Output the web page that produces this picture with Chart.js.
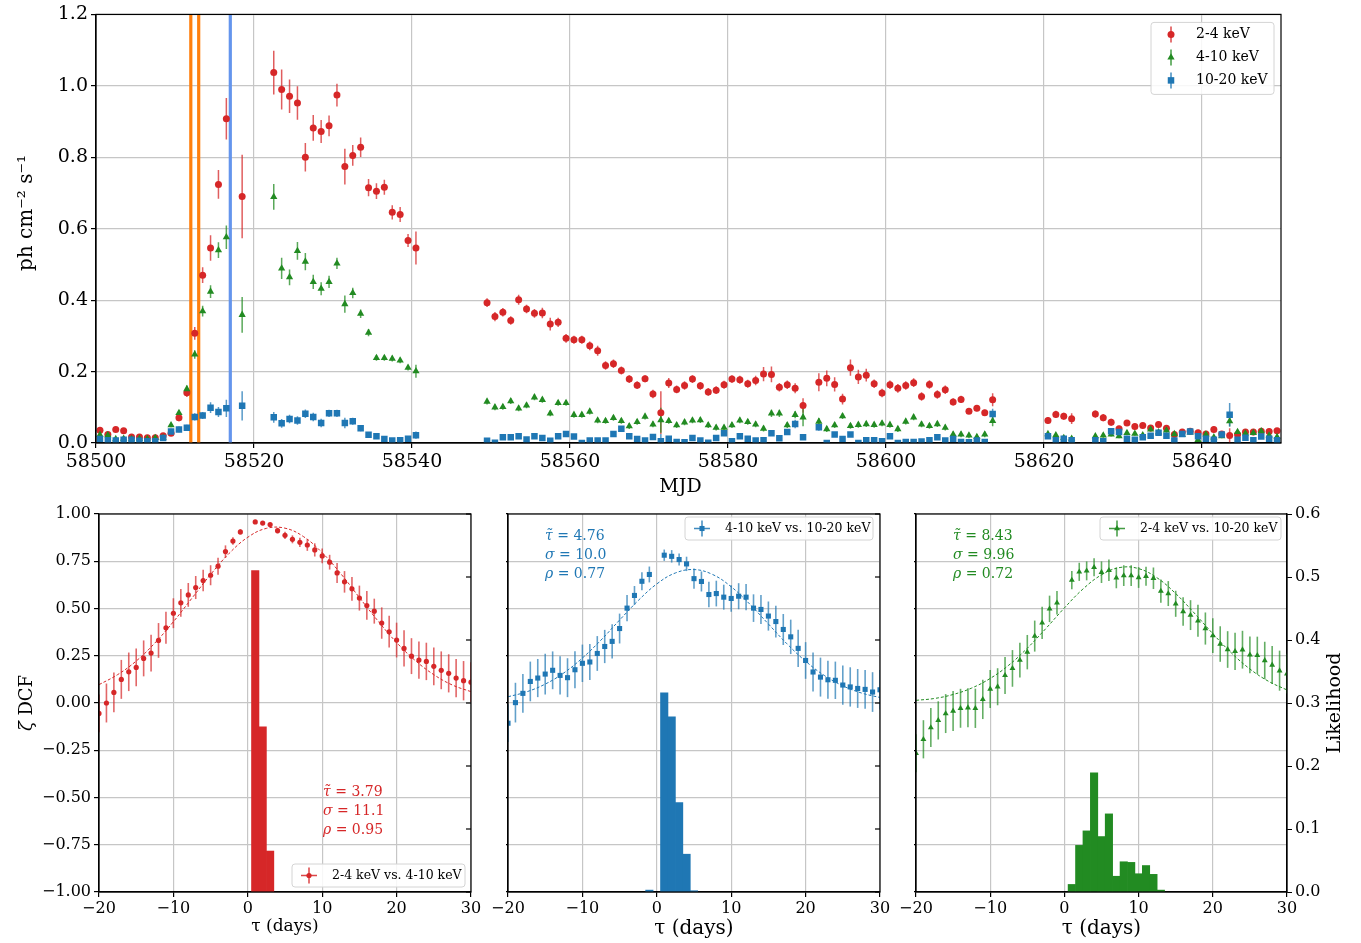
<!DOCTYPE html>
<html><head><meta charset="utf-8"><title>Light curves and DCF</title>
<script src="https://cdn.jsdelivr.net/npm/chart.js@4.4.1/dist/chart.umd.min.js"></script>
<style>
html,body{margin:0;padding:0;background:#fff;}
#wrap{position:relative;width:1361px;height:943px;overflow:hidden;background:#fff;}
#wrap canvas{position:absolute;left:0;top:0;}
</style></head><body><div id="wrap">
<canvas id="cTop" width="1361" height="943"></canvas>
<canvas id="cP1" width="1361" height="943"></canvas>
<canvas id="cP2" width="1361" height="943"></canvas>
<canvas id="cP3" width="1361" height="943"></canvas>
</div>
<script>
const FONT = "'DejaVu Serif', 'Liberation Serif', serif";
const RED = '#d62728', GREEN = '#228b22', BLUE = '#1f77b4', ORANGE = '#ff7f0e', CORNFLOWER = '#6495ed';
const GRID = '#c6c6c6';

// ---------------- Top panel data (MJD light curves) ----------------
const mjd = [
58500.5,58501.5,58502.5,58503.5,58504.5,58505.5,58506.5,58507.5,58508.5,58509.5,58510.5,58511.5,58512.5,58513.5,58514.5,58515.5,58516.5,
58518.5,
58522.5,58523.5,58524.5,58525.5,58526.5,58527.5,58528.5,58529.5,58530.5,58531.5,58532.5,58533.5,58534.5,58535.5,58536.5,58537.5,58538.5,58539.5,58540.5,
58549.5,58550.5,58551.5,58552.5,58553.5,58554.5,58555.5,58556.5,58557.5,58558.5,
58559.5,58560.5,58561.5,58562.5,58563.5,58564.5,58565.5,58566.5,58567.5,58568.5,
58569.5,58570.5,58571.5,58572.5,58573.5,58574.5,58575.5,58576.5,58577.5,58578.5,
58579.5,58580.5,58581.5,58582.5,58583.5,58584.5,58585.5,58586.5,58587.5,58588.5,
58589.5,
58591.5,58592.5,58593.5,58594.5,58595.5,58596.5,58597.5,58598.5,58599.5,58600.5,
58601.5,58602.5,58603.5,58604.5,58605.5,58606.5,58607.5,58608.5,58609.5,58610.5,
58611.5,58612.5,58613.5,
58620.5,58621.5,58622.5,58623.5,
58626.5,58627.5,58628.5,58629.5,58630.5,58631.5,58632.5,58633.5,58634.5,58635.5,
58636.5,58637.5,58638.5,58639.5,58640.5,58641.5,58642.5,58643.5,58644.5,58645.5,
58646.5,58647.5,58648.5,58649.5];

const flux2_4 = [
0.036,0.024,0.038,0.034,0.017,0.017,0.015,0.015,0.020,0.027,0.071,0.141,0.307,0.470,0.546,0.724,0.908,
0.690,
1.037,0.990,0.971,0.952,0.800,0.882,0.872,0.888,0.974,0.774,0.805,0.828,0.715,0.705,0.716,0.646,0.640,0.567,0.546,
0.393,0.354,0.366,0.343,0.401,0.375,0.363,0.364,0.333,0.338,
0.293,0.289,0.289,0.272,0.258,0.217,0.222,0.203,0.179,0.162,
0.180,0.137,0.085,0.168,0.150,0.161,0.179,0.160,0.143,0.148,
0.163,0.179,0.177,0.166,0.175,0.193,0.192,0.156,0.163,0.153,
0.105,
0.170,0.181,0.164,0.123,0.211,0.185,0.190,0.166,0.140,0.163,
0.153,0.161,0.169,0.130,0.164,0.136,0.149,0.115,0.122,0.089,
0.097,0.085,0.121,
0.063,0.080,0.075,0.068,
0.081,0.071,0.058,0.040,0.056,0.046,0.049,0.042,0.052,0.041,
0.024,0.031,0.033,0.029,0.025,0.038,0.025,0.021,0.024,0.031,
0.031,0.033,0.032,0.034];
const err2_4 = [
0.006,0.006,0.006,0.006,0.005,0.005,0.005,0.005,0.006,0.007,0.010,0.012,0.018,0.022,0.036,0.040,0.058,
0.117,
0.061,0.056,0.047,0.047,0.040,0.036,0.032,0.029,0.032,0.050,0.029,0.027,0.024,0.022,0.021,0.020,0.021,0.018,0.046,
0.012,0.013,0.012,0.012,0.014,0.012,0.012,0.015,0.018,0.013,
0.012,0.011,0.011,0.012,0.014,0.012,0.012,0.011,0.011,0.011,
0.010,0.012,0.060,0.014,0.011,0.012,0.011,0.011,0.011,0.011,
0.011,0.011,0.011,0.011,0.013,0.020,0.022,0.012,0.012,0.014,
0.020,
0.025,0.022,0.020,0.015,0.023,0.020,0.018,0.012,0.012,0.012,
0.012,0.012,0.012,0.012,0.012,0.012,0.012,0.010,0.010,0.008,
0.008,0.008,0.018,
0.010,0.010,0.010,0.015,
0.010,0.010,0.010,0.008,0.008,0.008,0.008,0.008,0.008,0.008,
0.008,0.008,0.008,0.008,0.008,0.008,0.008,0.020,0.008,0.008,
0.008,0.008,0.008,0.008];

const flux4_10 = [
0.023,0.022,0.011,0.012,0.011,0.012,0.011,0.014,0.015,0.050,0.084,0.151,0.248,0.369,0.424,0.540,0.576,
0.359,
0.689,0.489,0.464,0.538,0.508,0.451,0.432,0.451,0.503,0.389,0.420,0.362,0.309,0.238,0.238,0.236,0.231,0.211,0.201,
0.116,0.100,0.101,0.117,0.097,0.105,0.128,0.121,0.083,0.112,
0.112,0.079,0.079,0.088,0.063,0.062,0.070,0.062,0.047,0.059,
0.074,0.052,0.064,0.062,0.050,0.058,0.063,0.064,0.050,0.043,
0.043,0.050,0.063,0.059,0.052,0.040,0.083,0.083,0.050,0.079,
0.072,
0.060,0.039,0.050,0.075,0.048,0.051,0.053,0.051,0.055,0.051,
0.039,0.060,0.072,0.052,0.048,0.053,0.043,0.024,0.024,0.021,
0.017,0.024,0.062,
0.025,0.022,0.014,0.012,
0.019,0.021,0.024,0.019,0.028,0.026,0.022,0.038,0.030,0.035,
0.025,0.023,0.030,0.009,0.024,0.016,0.019,0.061,0.031,0.027,
0.028,0.033,0.021,0.017];
const err4_10 = [
0.004,0.004,0.004,0.004,0.004,0.004,0.004,0.004,0.004,0.006,0.008,0.010,0.012,0.015,0.018,0.022,0.033,
0.050,
0.036,0.030,0.022,0.025,0.024,0.020,0.018,0.017,0.016,0.024,0.015,0.012,0.010,0.008,0.008,0.008,0.008,0.008,0.018,
0.008,0.008,0.008,0.008,0.008,0.008,0.008,0.008,0.008,0.008,
0.008,0.008,0.008,0.008,0.008,0.008,0.008,0.008,0.008,0.008,
0.008,0.008,0.035,0.008,0.008,0.008,0.008,0.008,0.008,0.008,
0.008,0.008,0.008,0.008,0.008,0.008,0.010,0.010,0.008,0.010,
0.025,
0.010,0.008,0.008,0.008,0.008,0.008,0.008,0.008,0.008,0.008,
0.008,0.008,0.008,0.008,0.008,0.008,0.008,0.008,0.008,0.008,
0.008,0.008,0.015,
0.006,0.006,0.006,0.006,
0.006,0.006,0.006,0.006,0.006,0.006,0.006,0.006,0.006,0.006,
0.006,0.006,0.006,0.006,0.006,0.006,0.006,0.015,0.006,0.006,
0.006,0.006,0.006,0.006];

const flux10_20 = [
0.011,0.008,0.007,0.009,0.009,0.006,0.005,0.005,0.014,0.032,0.038,0.043,0.073,0.077,0.099,0.087,0.097,
0.104,
0.072,0.055,0.067,0.063,0.082,0.073,0.056,0.083,0.083,0.056,0.061,0.041,0.023,0.019,0.011,0.007,0.008,0.012,0.022,
0.006,0.001,0.016,0.016,0.019,0.010,0.019,0.014,0.006,0.019,
0.025,0.018,0.000,0.007,0.007,0.007,0.025,0.040,0.019,0.011,
0.007,0.017,0.005,0.012,0.003,0.002,0.014,0.007,0.001,0.014,
0.027,0.005,0.019,0.012,0.007,0.008,0.027,0.013,0.031,0.053,
0.016,
0.044,0.000,0.024,0.011,0.024,0.000,0.008,0.008,0.005,0.019,
0.000,0.003,0.003,0.004,0.008,0.016,0.007,0.011,0.003,0.002,
0.007,0.003,0.081,
0.019,0.008,0.012,0.008,
0.008,0.005,0.033,0.031,0.012,0.009,0.016,0.020,0.029,0.020,
0.007,0.025,0.032,0.019,0.012,0.009,0.024,0.079,0.009,0.015,
0.008,0.018,0.012,0.008];
const err10_20 = [
0.004,0.004,0.004,0.004,0.004,0.004,0.004,0.004,0.006,0.008,0.008,0.008,0.010,0.010,0.015,0.014,0.024,
0.041,
0.015,0.012,0.012,0.012,0.012,0.012,0.012,0.010,0.010,0.015,0.010,0.008,0.006,0.005,0.005,0.004,0.004,0.005,0.010,
0.005,0.005,0.005,0.005,0.005,0.005,0.005,0.005,0.005,0.005,
0.005,0.005,0.005,0.005,0.005,0.005,0.005,0.005,0.005,0.005,
0.005,0.005,0.020,0.005,0.005,0.005,0.005,0.005,0.005,0.005,
0.005,0.005,0.005,0.005,0.005,0.005,0.006,0.005,0.005,0.012,
0.005,
0.010,0.006,0.006,0.006,0.006,0.006,0.006,0.006,0.006,0.006,
0.006,0.006,0.006,0.006,0.006,0.006,0.006,0.006,0.006,0.006,
0.006,0.006,0.015,
0.006,0.006,0.006,0.006,
0.005,0.005,0.005,0.005,0.005,0.005,0.005,0.005,0.005,0.005,
0.005,0.005,0.005,0.005,0.005,0.005,0.005,0.033,0.005,0.005,
0.005,0.005,0.005,0.005];

const orangeLines = [58512, 58513];
const blueLines = [58517];
const mjdTicks = [58500, 58520, 58540, 58560, 58580, 58600, 58620, 58640];

// ---------------- Bottom panels data (DCF) ----------------
const tau = [-20,-19,-18,-17,-16,-15,-14,-13,-12,-11,-10,-9,-8,-7,-6,-5,-4,-3,-2,-1,
  1,2,3,4,5,6,7,8,9,10,11,12,13,14,15,16,17,18,19,20,21,22,23,24,25,26,27,28,29,30];

const dcf_24_410 = [-0.055,0.000,0.056,0.125,0.165,0.188,0.236,0.264,0.331,0.398,0.475,0.530,0.572,0.611,0.648,0.676,0.724,0.801,0.857,0.905,
  0.958,0.952,0.944,0.912,0.887,0.866,0.850,0.836,0.810,0.778,0.745,0.688,0.641,0.604,0.555,0.516,0.486,0.423,0.377,0.333,
  0.289,0.248,0.227,0.220,0.194,0.173,0.157,0.132,0.118,0.110];
const dcfErr_24_410 = [0.100,0.103,0.105,0.103,0.102,0.100,0.095,0.097,0.092,0.085,0.079,0.073,0.063,0.061,0.057,0.053,0.045,0.033,0.020,0.014,
  0.006,0.006,0.008,0.015,0.019,0.021,0.025,0.031,0.035,0.039,0.039,0.053,0.057,0.063,0.066,0.076,0.066,0.083,0.084,0.092,
  0.096,0.095,0.099,0.099,0.100,0.100,0.101,0.101,0.104,0.105];

const dcf_410_1020 = [-0.107,0.002,0.051,0.114,0.132,0.153,0.173,0.146,0.134,0.176,0.210,0.217,0.262,0.299,0.326,0.394,0.502,0.569,0.644,0.680,
  0.782,0.776,0.759,0.736,0.658,0.643,0.574,0.579,0.560,0.553,0.565,0.560,0.502,0.495,0.460,0.431,0.389,0.350,0.289,0.225,
  0.164,0.137,0.123,0.120,0.095,0.085,0.077,0.072,0.058,0.070];
const dcfErr_410_1020 = [0.100,0.105,0.103,0.105,0.101,0.108,0.100,0.101,0.103,0.098,0.099,0.095,0.092,0.088,0.091,0.079,0.070,0.050,0.048,0.042,
  0.030,0.033,0.032,0.038,0.053,0.053,0.068,0.068,0.066,0.070,0.069,0.069,0.073,0.077,0.077,0.084,0.082,0.091,0.098,0.097,
  0.103,0.103,0.101,0.099,0.104,0.104,0.103,0.103,0.105,0.105];

const dcf_24_1020 = [-0.266,-0.192,-0.130,-0.092,-0.056,-0.042,-0.028,-0.025,-0.028,0.019,0.074,0.086,0.146,0.183,0.227,0.269,0.354,0.424,0.498,0.530,
  0.650,0.694,0.699,0.718,0.692,0.702,0.662,0.674,0.674,0.664,0.671,0.660,0.592,0.579,0.525,0.484,0.465,0.435,0.394,0.357,
  0.312,0.283,0.273,0.282,0.255,0.252,0.225,0.201,0.171,0.155];
const dcfErr_24_1020 = [0.100,0.101,0.103,0.101,0.103,0.106,0.103,0.103,0.104,0.104,0.100,0.098,0.098,0.097,0.092,0.091,0.082,0.085,0.070,0.062,
  0.048,0.048,0.050,0.048,0.057,0.057,0.055,0.055,0.055,0.055,0.050,0.057,0.062,0.066,0.069,0.075,0.079,0.085,0.085,0.092,
  0.094,0.097,0.099,0.100,0.097,0.099,0.099,0.101,0.106,0.105];

// dashed model curves
const fitTau = [-20,-17.5,-15,-12.5,-10,-7.5,-5,-2.5,0,2.5,5,7.5,10,12.5,15,17.5,20,22.5,25,27.5,30];
const fit_24_410   = [0.097,0.150,0.222,0.317,0.430,0.555,0.680,0.792,0.877,0.924,0.925,0.880,0.795,0.684,0.558,0.434,0.320,0.225,0.150,0.095,0.060];
const fit_410_1020 = [0.033,0.059,0.100,0.159,0.238,0.333,0.439,0.542,0.630,0.688,0.706,0.680,0.615,0.523,0.418,0.313,0.221,0.146,0.091,0.053,0.029];
const fit_24_1020  = [0.014,0.024,0.045,0.079,0.130,0.200,0.290,0.394,0.503,0.603,0.678,0.717,0.711,0.662,0.579,0.476,0.367,0.265,0.180,0.115,0.069];

// lag likelihood histograms (bin centres / heights)
const histTau1 = [1,2,3];
const hist1 = [0.510,0.262,0.065];
const histTau2 = [-1,1,2,3,4,5];
const hist2 = [0.003,0.316,0.278,0.142,0.060,0.002];
const histTau3 = [1,2,3,4,5,6,7,8,9,10,11,12,13];
const hist3 = [0.012,0.074,0.097,0.189,0.088,0.124,0.025,0.048,0.047,0.029,0.042,0.028,0.003];

const stats1 = ['3.79','11.1','0.95'];
const stats2 = ['4.76','10.0','0.77'];
const stats3 = ['8.43','9.96','0.72'];

// ---------------- helpers ----------------
function pts(xs, ys){ return xs.map((x,i)=>({x:x, y:ys[i]})); }
function fmt(v, d){ let s = (Math.abs(v) < 1e-9 ? 0 : v).toFixed(d); return s.replace('-', '\u2212'); }
function rgba(hex, a){ const n = parseInt(hex.slice(1),16); return 'rgba('+((n>>16)&255)+','+((n>>8)&255)+','+(n&255)+','+a+')'; }
function txt(ctx, s, x, y, size, o){
  o = o || {};
  ctx.save();
  ctx.font = (o.italic ? 'italic ' : '') + size + 'px ' + FONT;
  ctx.fillStyle = o.color || '#000';
  ctx.textAlign = o.align || 'center';
  ctx.textBaseline = o.baseline || 'middle';
  ctx.translate(x, y);
  if (o.rot) ctx.rotate(o.rot);
  ctx.fillText(s, 0, 0);
  const w = ctx.measureText(s).width;
  ctx.restore();
  return w;
}
function marker(ctx, style, x, y, r, color){
  ctx.save(); ctx.fillStyle = color; ctx.beginPath();
  if (style === 'circle') ctx.arc(x, y, r, 0, Math.PI*2);
  else if (style === 'rect'){ const s = r*Math.SQRT1_2; ctx.rect(x-s, y-s, 2*s, 2*s); }
  else { ctx.moveTo(x, y-r); ctx.lineTo(x+r*0.866, y+r*0.5); ctx.lineTo(x-r*0.866, y+r*0.5); ctx.closePath(); }
  ctx.fill(); ctx.restore();
}
function legendBox(ctx, x, y, w, h){
  ctx.save();
  const r = 3;
  ctx.beginPath();
  ctx.moveTo(x+r, y); ctx.lineTo(x+w-r, y); ctx.arcTo(x+w, y, x+w, y+r, r);
  ctx.lineTo(x+w, y+h-r); ctx.arcTo(x+w, y+h, x+w-r, y+h, r);
  ctx.lineTo(x+r, y+h); ctx.arcTo(x, y+h, x, y+h-r, r);
  ctx.lineTo(x, y+r); ctx.arcTo(x, y, x+r, y, r); ctx.closePath();
  ctx.fillStyle = 'rgba(255,255,255,0.85)'; ctx.fill();
  ctx.strokeStyle = '#d4d4d4'; ctx.lineWidth = 1; ctx.stroke();
  ctx.restore();
}
function frame(chart){
  const a = chart.chartArea, ctx = chart.ctx;
  ctx.save(); ctx.strokeStyle = '#000'; ctx.lineWidth = 1.2;
  ctx.strokeRect(a.left, a.top, a.right-a.left, a.bottom-a.top);
  ctx.restore();
}

Chart.register({
  id: 'errbars',
  beforeDatasetsDraw(chart){
    const ctx = chart.ctx, a = chart.chartArea;
    ctx.save();
    ctx.beginPath(); ctx.rect(a.left, a.top, a.right-a.left, a.bottom-a.top); ctx.clip();
    chart.data.datasets.forEach((ds, i) => {
      if (!ds.errs) return;
      const meta = chart.getDatasetMeta(i);
      const ys = chart.scales[meta.yAxisID];
      ctx.strokeStyle = ds.errColor; ctx.lineWidth = ds.errWidth;
      meta.data.forEach((el, j) => {
        const p = ds.data[j];
        if (!p || p.y == null) return;
        const e = ds.errs[j];
        ctx.beginPath();
        ctx.moveTo(el.x, ys.getPixelForValue(p.y - e));
        ctx.lineTo(el.x, ys.getPixelForValue(p.y + e));
        ctx.stroke();
      });
    });
    ctx.restore();
  }
});

const tickFont = (s) => ({family: FONT, size: s});

// ---------------- Top chart ----------------
new Chart(document.getElementById('cTop'), {
  type: 'scatter',
  data: { datasets: [
    { label: '2-4 keV', data: pts(mjd, flux2_4), errs: err2_4, errColor: rgba(RED,0.75), errWidth: 1.5,
      pointStyle: 'circle', pointRadius: 3.5, backgroundColor: RED, borderWidth: 0, order: 3, clip: 0 },
    { label: '4-10 keV', data: pts(mjd, flux4_10), errs: err4_10, errColor: rgba(GREEN,0.75), errWidth: 1.5,
      pointStyle: 'triangle', pointRadius: 4.2, backgroundColor: GREEN, borderWidth: 0, order: 2, clip: 0 },
    { label: '10-20 keV', data: pts(mjd, flux10_20), errs: err10_20, errColor: rgba(BLUE,0.75), errWidth: 1.5,
      pointStyle: 'rect', pointRadius: 4.6, backgroundColor: BLUE, borderWidth: 0, order: 1, clip: 0 }
  ]},
  options: {
    responsive: false, animation: false, events: [], devicePixelRatio: 1,
    layout: { padding: { left: 0, top: 14, right: 80, bottom: 443 } },
    plugins: { legend: { display: false }, tooltip: { enabled: false } },
    scales: {
      x: { type: 'linear', min: 58500, max: 58650,
        afterFit(s){ s.height = 57; },
        afterBuildTicks(s){ s.ticks = mjdTicks.map(v => ({value: v})); },
        ticks: { callback: v => String(v), font: tickFont(19), color: '#000', padding: 3, maxRotation: 0, autoSkip: false, includeBounds: false },
        grid: { color: GRID, lineWidth: 1.2, tickColor: '#000', tickLength: 5 },
        border: { color: '#000', width: 1.2 } },
      y: { type: 'linear', min: 0, max: 1.2,
        afterFit(s){ s.width = 96; },
        ticks: { stepSize: 0.2, callback: v => fmt(v,1), font: tickFont(19), color: '#000', padding: 3, autoSkip: false },
        grid: { color: GRID, lineWidth: 1.2, tickColor: '#000', tickLength: 5 },
        border: { color: '#000', width: 1.2 } }
    }
  },
  plugins: [{
    id: 'topDeco',
    beforeDatasetsDraw(chart){
      const ctx = chart.ctx, a = chart.chartArea, xs = chart.scales.x;
      ctx.save();
      ctx.lineWidth = 3.2;
      ctx.strokeStyle = ORANGE;
      orangeLines.forEach(v => { const px = xs.getPixelForValue(v); ctx.beginPath(); ctx.moveTo(px, a.top); ctx.lineTo(px, a.bottom); ctx.stroke(); });
      ctx.strokeStyle = CORNFLOWER;
      blueLines.forEach(v => { const px = xs.getPixelForValue(v); ctx.beginPath(); ctx.moveTo(px, a.top); ctx.lineTo(px, a.bottom); ctx.stroke(); });
      ctx.restore();
    },
    afterDraw(chart){
      const ctx = chart.ctx, a = chart.chartArea;
      frame(chart);
      // legend
      const lx = a.right - 130, ly = a.top + 8;
      legendBox(ctx, lx, ly, 123, 72);
      const items = [['2-4 keV', RED, 'circle', 3.5], ['4-10 keV', GREEN, 'triangle', 4.2], ['10-20 keV', BLUE, 'rect', 4.6]];
      items.forEach((it, k) => {
        const yy = ly + 12 + k*23, mx = lx + 20;
        ctx.save(); ctx.strokeStyle = rgba(it[1], 0.85); ctx.lineWidth = 1.5;
        ctx.beginPath(); ctx.moveTo(mx, yy-8); ctx.lineTo(mx, yy+8); ctx.stroke(); ctx.restore();
        marker(ctx, it[2], mx, yy, it[3], it[1]);
        txt(ctx, it[0], lx + 45, yy, 14, {align: 'left'});
      });
      // axis titles
      txt(ctx, 'MJD', (a.left + a.right)/2 - 8, 487, 19);
      txt(ctx, 'ph cm\u207B\u00B2 s\u207B\u00B9', 27, 213, 20, {rot: -Math.PI/2});
    }
  }]
});

// ---------------- Bottom charts ----------------
function makePanel(id, cfg){
  const datasets = [
    { type: 'bar', data: pts(cfg.histTau, cfg.hist), yAxisID: 'y2', backgroundColor: cfg.color, borderWidth: 0,
      barPercentage: 1.0, categoryPercentage: 1.0, order: 5, clip: 0 },
    { type: 'line', data: pts(fitTau, cfg.fit), yAxisID: 'y', borderColor: cfg.color, borderWidth: 1, borderDash: [3, 2],
      pointRadius: 0, tension: 0.4, fill: false, order: 3, clip: 0 },
    { type: 'scatter', data: pts(tau, cfg.dcf), yAxisID: 'y', errs: cfg.err, errColor: rgba(cfg.color, 0.7), errWidth: 1.6,
      pointStyle: cfg.style, pointRadius: cfg.r, backgroundColor: cfg.color, borderWidth: 0, order: 1, clip: 0 }
  ];
  return new Chart(document.getElementById(id), {
    type: 'scatter',
    data: { datasets },
    options: {
      responsive: false, animation: false, events: [], devicePixelRatio: 1,
      layout: { padding: cfg.padding },
      plugins: { legend: { display: false }, tooltip: { enabled: false } },
      scales: {
        x: { type: 'linear', min: -20, max: 30, offset: false,
          afterFit(s){ s.height = 40; },
          ticks: { stepSize: 10, callback: v => fmt(v,0), font: tickFont(16), color: '#000', padding: 2, maxRotation: 0, autoSkip: false },
          grid: { color: GRID, lineWidth: 1.2, tickColor: '#000', tickLength: 5, offset: false },
          border: { color: '#000', width: 1.2 } },
        y: { type: 'linear', position: 'left', min: -1, max: 1,
          afterFit(s){ s.width = cfg.yWidth; },
          ticks: { display: cfg.yLabels, stepSize: 0.25, callback: v => fmt(v,2), font: tickFont(16), color: '#000', padding: 3, autoSkip: false },
          grid: { color: GRID, lineWidth: 1.2, tickColor: '#000', tickLength: cfg.yLabels ? 5 : 2 },
          border: { color: '#000', width: 1.2 } },
        y2: { type: 'linear', position: 'right', min: 0, max: 0.6, display: cfg.y2Show,
          afterFit(s){ s.width = cfg.y2Show ? 60 : 0; },
          ticks: { stepSize: 0.1, callback: v => fmt(v,1), font: tickFont(16), color: '#000', padding: 3, autoSkip: false },
          grid: { drawOnChartArea: false, tickColor: '#000', tickLength: 5 },
          border: { color: '#000', width: 1.2 } }
      }
    },
    plugins: [{
      id: 'panelDeco',
      afterDraw(chart){
        const ctx = chart.ctx, a = chart.chartArea;
        frame(chart);
        if (!cfg.y2Show){
          const s = chart.scales.y2;
          ctx.save(); ctx.strokeStyle = '#000'; ctx.lineWidth = 1.2;
          s.ticks.forEach(t => { const py = s.getPixelForValue(t.value); ctx.beginPath(); ctx.moveTo(a.right - 5, py); ctx.lineTo(a.right, py); ctx.stroke(); });
          ctx.restore();
        }
        // legend
        const L = cfg.legend(a);
        legendBox(ctx, L.x, L.y, L.w, 23);
        const my = L.y + 11.5, mx = L.x + 17;
        ctx.save(); ctx.strokeStyle = rgba(cfg.color, 0.85); ctx.lineWidth = 1.5;
        ctx.beginPath(); ctx.moveTo(mx, my-8); ctx.lineTo(mx, my+8); ctx.moveTo(mx-8, my); ctx.lineTo(mx+8, my); ctx.stroke(); ctx.restore();
        marker(ctx, cfg.style, mx, my, cfg.r, cfg.color);
        txt(ctx, cfg.label, L.x + 40, my, 12.5, {align: 'left'});
        // stats annotation
        const sx = a.left + cfg.statDx, sy = a.top + cfg.statDy;
        const sym = ['\u03C4\u0303', '\u03C3', '\u03C1'];
        cfg.stats.forEach((v, k) => {
          const yy = sy + k*19;
          const w = txt(ctx, sym[k], sx, yy, 14, {align: 'left', italic: true, color: cfg.color});
          txt(ctx, ' = ' + v, sx + w, yy, 14, {align: 'left', color: cfg.color});
        });
        // axis titles
        txt(ctx, '\u03C4 (days)', (a.left + a.right)/2, cfg.xTitleY, cfg.xTitleSize);
        if (cfg.leftTitle){
          ctx.save(); ctx.translate(27, (a.top + a.bottom)/2); ctx.rotate(-Math.PI/2);
          ctx.font = 'italic 18px ' + FONT; ctx.textBaseline = 'middle'; ctx.fillStyle = '#000';
          const w1 = ctx.measureText('\u03B6').width;
          ctx.font = '18px ' + FONT;
          const w2 = ctx.measureText(' DCF').width;
          ctx.textAlign = 'left';
          ctx.font = 'italic 18px ' + FONT; ctx.fillText('\u03B6', -(w1+w2)/2, 0);
          ctx.font = '18px ' + FONT; ctx.fillText(' DCF', -(w1+w2)/2 + w1, 0);
          ctx.restore();
        }
        if (cfg.rightTitle){
          txt(ctx, 'Likelihood', 1335, (a.top + a.bottom)/2, 19, {rot: -Math.PI/2});
        }
      }
    }]
  });
}

makePanel('cP1', {
  color: RED, style: 'circle', r: 2.6, label: '2-4 keV vs. 4-10 keV',
  dcf: dcf_24_410, err: dcfErr_24_410, fit: fit_24_410, histTau: histTau1, hist: hist1, stats: stats1,
  padding: { left: 39, right: 890, top: 514, bottom: 11 }, yWidth: 60, yLabels: true, y2Show: false,
  legend: a => ({ x: a.right - 179, y: a.bottom - 28, w: 173 }),
  statDx: 224, statDy: 278, xTitleY: 927, xTitleSize: 17, leftTitle: true
});
makePanel('cP2', {
  color: BLUE, style: 'rect', r: 3.6, label: '4-10 keV vs. 10-20 keV',
  dcf: dcf_410_1020, err: dcfErr_410_1020, fit: fit_410_1020, histTau: histTau2, hist: hist2, stats: stats2,
  padding: { left: 498, right: 481, top: 514, bottom: 11 }, yWidth: 10, yLabels: false, y2Show: false,
  legend: a => ({ x: a.right - 195, y: a.top + 3, w: 188 }),
  statDx: 37, statDy: 22, xTitleY: 929, xTitleSize: 20
});
makePanel('cP3', {
  color: GREEN, style: 'triangle', r: 3.4, label: '2-4 keV vs. 10-20 keV',
  dcf: dcf_24_1020, err: dcfErr_24_1020, fit: fit_24_1020, histTau: histTau3, hist: hist3, stats: stats3,
  padding: { left: 906, right: 14, top: 514, bottom: 11 }, yWidth: 10, yLabels: false, y2Show: true,
  legend: a => ({ x: a.right - 187, y: a.top + 3, w: 181 }),
  statDx: 37, statDy: 22, xTitleY: 929, xTitleSize: 20, rightTitle: true
});
</script>
</body></html>
